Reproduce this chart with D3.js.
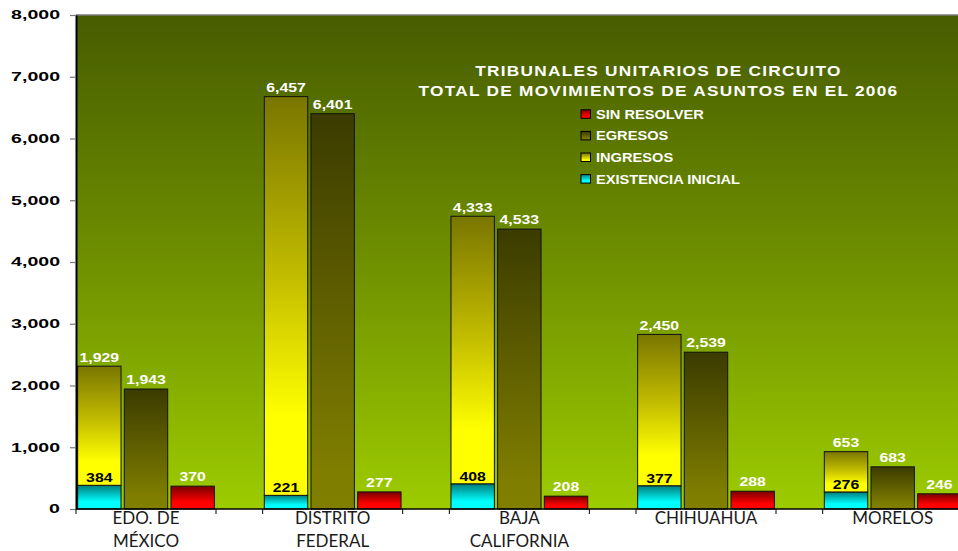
<!DOCTYPE html>
<html><head><meta charset="utf-8">
<script src="https://cdn.jsdelivr.net/npm/d3@7"></script>
<style>body{margin:0;background:#fff;} svg{display:block;}</style>
</head><body>
<svg id="chart" width="958" height="551"></svg>
<script>
// ---- data ----
const categories = ["EDO. DE\nMÉXICO", "DISTRITO\nFEDERAL", "BAJA\nCALIFORNIA", "CHIHUAHUA", "MORELOS"];
const existenciaInicial = [384, 221, 408, 377, 276];
const ingresos = [1929, 6457, 4333, 2450, 653];
const egresos = [1943, 6401, 4533, 2539, 683];
const sinResolver = [370, 277, 208, 288, 246];
const yTicks = [0, 1000, 2000, 3000, 4000, 5000, 6000, 7000, 8000];
const legendNames = ["SIN RESOLVER", "EGRESOS", "INGRESOS", "EXISTENCIA INICIAL"];
const titleLines = ["TRIBUNALES UNITARIOS DE CIRCUITO", "TOTAL DE MOVIMIENTOS DE ASUNTOS EN EL 2006"];

// ---- layout ----
const W = 958, H = 551;
const plotL = 76, plotT = 15, plotB = 509, groupW = 186.67;
const svg = d3.select("#chart");
const fmt = d3.format(",");

const x = d3.scaleBand().domain(categories)
  .range([plotL, plotL + groupW * categories.length]).padding(0);
const slots = ["stack", "egresos", "sin", "gap"];
const xs = d3.scaleBand().domain(slots).range([0, x.bandwidth()])
  .paddingInner(0.07).paddingOuter(0.035);
const y = d3.scaleLinear().domain([0, 8000]).range([plotB, plotT]);

// ---- gradients ----
const defs = svg.append("defs");
function grad(id, stops) {
  const g = defs.append("linearGradient").attr("id", id)
    .attr("x1", 0).attr("y1", 0).attr("x2", 0).attr("y2", 1);
  stops.forEach(s => g.append("stop").attr("offset", s[0]).attr("stop-color", s[1]));
}
grad("gBg", [[0, "#475c00"], [0.5, "#6f9000"], [1, "#9dcc00"]]);
grad("gYel", [[0, "#797600"], [0.45, "#c2bc00"], [0.8, "#ffff00"], [1, "#ffff00"]]);
grad("gCy", [[0, "#007c7c"], [0.7, "#00ffff"], [1, "#00ffff"]]);
grad("gEgr", [[0, "#3b3b00"], [0.9, "#7f7e00"], [1, "#807f00"]]);
grad("gRed", [[0, "#780000"], [0.7, "#ff0000"], [1, "#ff0000"]]);

function stretch(sel, k) {
  sel.each(function () {
    const t = d3.select(this);
    t.attr("x", (+t.attr("x") || 0) / k).attr("transform", `scale(${k},1)`);
  });
}

// ---- plot background ----
svg.append("rect").attr("x", plotL).attr("y", plotT)
  .attr("width", x.range()[1] - plotL).attr("height", plotB - plotT)
  .attr("fill", "url(#gBg)");
svg.append("line").attr("x1", plotL).attr("x2", W).attr("y1", plotT).attr("y2", plotT)
  .attr("stroke", "#7a7a7a").attr("stroke-width", 1.5);

// ---- bars ----
const idx = d3.range(categories.length);
const g = svg.append("g");
const barStroke = "#111";
idx.forEach(i => {
  const c = categories[i];
  const x0 = x(c);
  g.append("rect").attr("x", x0 + xs("stack")).attr("width", xs.bandwidth())
    .attr("y", y(existenciaInicial[i])).attr("height", y(0) - y(existenciaInicial[i]))
    .attr("fill", "url(#gCy)").attr("stroke", barStroke).attr("stroke-width", 1);
  g.append("rect").attr("x", x0 + xs("stack")).attr("width", xs.bandwidth())
    .attr("y", y(existenciaInicial[i] + ingresos[i]))
    .attr("height", y(existenciaInicial[i]) - y(existenciaInicial[i] + ingresos[i]))
    .attr("fill", "url(#gYel)").attr("stroke", barStroke).attr("stroke-width", 1);
  g.append("rect").attr("x", x0 + xs("egresos")).attr("width", xs.bandwidth())
    .attr("y", y(egresos[i])).attr("height", y(0) - y(egresos[i]))
    .attr("fill", "url(#gEgr)").attr("stroke", barStroke).attr("stroke-width", 1);
  g.append("rect").attr("x", x0 + xs("sin")).attr("width", xs.bandwidth())
    .attr("y", y(sinResolver[i])).attr("height", y(0) - y(sinResolver[i]))
    .attr("fill", "url(#gRed)").attr("stroke", barStroke).attr("stroke-width", 1);
});

// ---- data labels ----
const lab = svg.append("g").attr("font-family", "Liberation Sans, Arial, sans-serif")
  .attr("font-weight", "bold").attr("font-size", 12).attr("text-anchor", "middle");
function addLabel(xc, yy, txt, col) {
  lab.append("text").attr("x", xc).attr("y", yy).attr("fill", col).text(txt);
}
idx.forEach(i => {
  const c = categories[i], half = xs.bandwidth() / 2;
  addLabel(x(c) + xs("stack") + half, y(existenciaInicial[i] + ingresos[i]) - 4.5, fmt(ingresos[i]), "#fff");
  addLabel(x(c) + xs("stack") + half, y(existenciaInicial[i]) - 3, fmt(existenciaInicial[i]), "#000");
  addLabel(x(c) + xs("egresos") + half, y(egresos[i]) - 5, fmt(egresos[i]), "#fff");
  addLabel(x(c) + xs("sin") + half, y(sinResolver[i]) - 5, fmt(sinResolver[i]), "#fff");
});
stretch(lab.selectAll("text"), 1.32);

// ---- y axis ----
const yAxis = svg.append("g").attr("transform", `translate(${plotL},0)`)
  .call(d3.axisLeft(y).tickValues(yTicks).tickFormat(fmt).tickSize(6).tickSizeOuter(0).tickPadding(10));
yAxis.select(".domain").attr("stroke", "#000").attr("stroke-width", 2);
yAxis.selectAll(".tick line").attr("stroke", "#777").attr("stroke-width", 1.2);
yAxis.selectAll(".tick text").attr("font-family", "Liberation Sans, Arial, sans-serif")
  .attr("font-weight", "bold").attr("font-size", 12).attr("fill", "#000");
stretch(yAxis.selectAll(".tick text"), 1.63);

// ---- x axis ----
const xa = svg.append("g");
xa.append("line").attr("x1", plotL).attr("x2", W).attr("y1", plotB).attr("y2", plotB)
  .attr("stroke", "#000").attr("stroke-width", 1.5);
idx.forEach(i => {
  const c = categories[i];
  [x(c), x(c) + xs.step() * 3].forEach(tx => {
    xa.append("line").attr("x1", tx).attr("x2", tx).attr("y1", plotB).attr("y2", plotB + 5)
      .attr("stroke", "#000").attr("stroke-width", 1);
  });
  const lines = c.split("\n");
  const t = xa.append("text").attr("text-anchor", "middle")
    .attr("font-family", "Lato, Liberation Sans, Arial, sans-serif").attr("font-size", 17)
    .attr("fill", "#1a1a1a");
  lines.forEach((ln, j) => {
    t.append("tspan").attr("x", x(c) + xs.step() * 1.5).attr("y", 524 + j * 23).text(ln);
  });
});

// ---- title ----
const tt = svg.append("g").attr("font-family", "Liberation Sans, Arial, sans-serif")
  .attr("font-weight", "bold").attr("font-size", 15).attr("fill", "#fff")
  .attr("text-anchor", "middle").attr("letter-spacing", 1.1);
titleLines.forEach((t, j) => {
  tt.append("text").attr("x", 658.5).attr("y", 76 + j * 19.7).text(t);
});
stretch(tt.selectAll("text"), 1.15);

// ---- legend ----
const legFills = ["url(#gRed)", "url(#gEgr)", "url(#gYel)", "url(#gCy)"];
const leg = svg.append("g");
legendNames.forEach((n, j) => {
  const cy = 114.3 + j * 21.6;
  leg.append("rect").attr("x", 581).attr("y", cy - 4.5).attr("width", 9.5).attr("height", 8.5)
    .attr("fill", legFills[j]).attr("stroke", "#000").attr("stroke-width", 1);
  leg.append("text").attr("x", 596).attr("y", cy + 4.5)
    .attr("font-family", "Liberation Sans, Arial, sans-serif").attr("font-weight", "bold")
    .attr("font-size", 12.5).attr("fill", "#fff").attr("class", "legtxt").text(n);
});
stretch(leg.selectAll(".legtxt"), 1.17);
</script>
</body></html>
